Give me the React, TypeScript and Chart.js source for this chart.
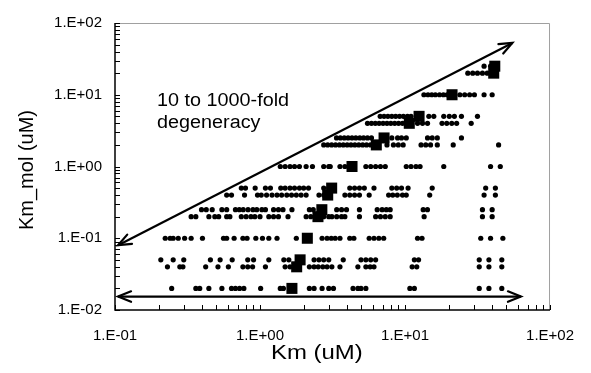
import React, { useEffect, useRef } from 'react';
import { Chart, registerables } from 'chart.js';

Chart.register(...registerables);

// ---- Data (Km in uM on x, Km_mol in uM on y) ----
const km_mol_002 = [0.246, 0.361, 0.384, 0.444, 0.546, 0.636, 0.677, 0.723, 0.774, 1.01, 1.38, 1.45, 2.19, 2.36, 2.68, 2.98, 3.21, 4.38, 4.73, 4.97, 5.37, 10.8, 11.6, 32.5, 37.9, 46.5];
const km_mol_004 = [0.23, 0.28, 0.294, 0.422, 0.513, 0.605, 0.762, 0.823, 0.889, 1.09, 1.49, 1.61, 2.19, 2.36, 2.52, 2.71, 2.9, 3.13, 3.56, 4.73, 5.37, 5.75, 6.11, 11.2, 12.05, 32.5, 37.9, 46.5];
const km_mol_005 = [0.207, 0.252, 0.298, 0.455, 0.531, 0.643, 0.823, 0.903, 1.15, 1.46, 1.58, 2.36, 2.55, 2.75, 2.98, 3.75, 4.97, 5.37, 5.8, 6.27, 11.6, 12.4, 32.5, 37.9, 46.5];
const km_mol_01 = [0.222, 0.24, 0.252, 0.273, 0.302, 0.335, 0.401, 0.56, 0.589, 0.663, 0.762, 0.814, 0.936, 1.04, 1.15, 1.31, 1.78, 2.68, 2.9, 3.1, 3.3, 3.56, 4.16, 4.44, 5.66, 6.11, 6.6, 7.13, 12.2, 13.1, 33.3, 38.9, 47.3];
const km_mol_02 = [0.335, 0.361, 0.444, 0.488, 0.519, 0.589, 0.62, 0.743, 0.802, 0.866, 0.921, 1.0, 1.15, 1.24, 1.34, 1.56, 2.08, 2.24, 2.75, 2.98, 3.13, 3.38, 3.65, 3.85, 4.85, 6.27, 6.77, 7.31, 7.9, 13.55, 34.2, 39.9];
const km_mol_025 = [0.395, 0.426, 0.468, 0.546, 0.589, 0.677, 0.72, 0.766, 0.827, 0.894, 0.95, 1.03, 1.09, 1.24, 1.34, 1.44, 1.66, 2.19, 2.33, 3.38, 3.65, 3.95, 4.85, 6.43, 6.95, 7.43, 7.9, 13.35, 14.28, 34.2, 39.9];
const km_mol_04 = [0.589, 0.636, 0.782, 0.961, 1.02, 1.11, 1.21, 1.31, 1.41, 1.53, 1.65, 1.78, 1.92, 2.08, 2.55, 2.75, 3.85, 4.16, 4.49, 4.85, 5.66, 7.71, 8.23, 8.85, 9.61, 10.2, 14.8, 35.1, 42.0];
const km_mol_05 = [0.743, 0.794, 0.926, 1.09, 1.18, 1.39, 1.49, 1.61, 1.73, 1.87, 2.0, 2.16, 2.75, 2.98, 4.16, 4.49, 4.85, 5.24, 6.11, 8.11, 8.76, 9.46, 10.5, 15.4, 36.0, 42.0];
const km_mol_1 = [1.38, 1.49, 1.61, 1.73, 1.87, 2.08, 2.3, 2.75, 2.98, 3.05, 3.56, 3.85, 5.37, 5.8, 6.27, 6.77, 7.31, 10.2, 11.0, 11.9, 12.7, 18.5, 38.9, 45.4];
const km_mol_2 = [2.75, 2.93, 3.12, 3.32, 3.53, 3.75, 3.99, 4.24, 4.51, 4.8, 5.11, 5.43, 5.78, 7.51, 8.32, 8.99, 9.71, 12.9, 13.9, 15.0, 16.7, 21.5, 44.2];
const km_mol_25 = [3.37, 3.58, 3.81, 4.05, 4.31, 4.58, 4.88, 5.18, 5.51, 5.87, 8.11, 8.89, 9.46, 10.2, 14.3, 15.4, 16.7, 24.5];
const km_mol_4 = [5.51, 5.87, 6.24, 6.63, 7.06, 7.51, 7.98, 8.49, 9.03, 9.61, 12.2, 13.2, 14.3, 18.0, 19.4, 21.0, 22.7, 28.6];
const km_mol_5 = [6.74, 7.17, 7.62, 8.11, 8.62, 9.17, 9.75, 10.4, 11.0, 14.6, 15.8, 18.5, 20.2, 21.9, 24.5, 31.6];
const km_mol_10 = [13.5, 14.4, 15.3, 16.2, 17.3, 18.4, 19.5, 23.9, 25.8, 27.9, 30.1, 35.1, 39.9];
const km_mol_20 = [27.1, 29.3, 31.6, 34.2, 36.9];
const km_mol_25b = [35.1, 38.9];

const kmMolLevels = [0.02, 0.04, 0.05, 0.1, 0.2, 0.25, 0.4, 0.5, 1, 2, 2.5, 4, 5, 10, 20, 25];
const kmRows = [km_mol_002, km_mol_004, km_mol_005, km_mol_01, km_mol_02, km_mol_025, km_mol_04, km_mol_05, km_mol_1, km_mol_2, km_mol_25, km_mol_4, km_mol_5, km_mol_10, km_mol_20, km_mol_25b];

// Large squares (averages)
const avgKm = [1.66, 1.79, 1.89, 2.12, 2.51, 2.67, 2.93, 3.12, 4.31, 6.34, 7.17, 10.7, 12.5, 21.1, 40.9, 41.6];
const avgKmMol = [0.02, 0.04, 0.05, 0.1, 0.2, 0.25, 0.4, 0.5, 1, 2, 2.5, 4, 5, 10, 20, 25];

// Arrows
const diagArrowKm = [0.105, 55];
const diagArrowKmMol = [0.08, 52.8];
const baseArrowKm = [0.105, 63];
const baseArrowKmMol = [0.0154, 0.0154];

const xTitle = 'Km (uM)';
const yTitle = 'Km_mol (uM)';
const noteLines = ['10 to 1000-fold', 'degeneracy'];

const FONT = 'Liberation Sans, Arial, sans-serif';

function expLabel(value: number | string): string {
  const v = Number(value);
  const e = Math.log10(v);
  const r = Math.round(e);
  if (Math.abs(e - r) > 1e-6) return '';
  return '1.E' + (r < 0 ? '-' : '+') + String(Math.abs(r)).padStart(2, '0');
}

function drawHead(ctx: CanvasRenderingContext2D, tx: number, ty: number, fx: number, fy: number) {
  const ang = Math.atan2(ty - fy, tx - fx);
  const L = 14;
  const a = (22 * Math.PI) / 180;
  ctx.beginPath();
  ctx.moveTo(tx - L * Math.cos(ang - a), ty - L * Math.sin(ang - a));
  ctx.lineTo(tx, ty);
  ctx.lineTo(tx - L * Math.cos(ang + a), ty - L * Math.sin(ang + a));
  ctx.stroke();
}

const decorPlugin = {
  id: 'decor',
  afterDatasetsDraw(chart: any) {
    const ctx: CanvasRenderingContext2D = chart.ctx;
    ctx.save();
    ctx.strokeStyle = '#000';
    ctx.lineWidth = 2.2;
    ctx.lineCap = 'round';
    ctx.lineJoin = 'miter';
    [1, 2].forEach((i) => {
      const pts = chart.getDatasetMeta(i).data;
      const p0 = pts[0];
      const p1 = pts[1];
      drawHead(ctx, p0.x, p0.y, p1.x, p1.y);
      drawHead(ctx, p1.x, p1.y, p0.x, p0.y);
    });
    ctx.restore();
  },
  afterDraw(chart: any) {
    const ctx: CanvasRenderingContext2D = chart.ctx;
    const { left, right, top, bottom } = chart.chartArea;
    const xs = chart.scales.x;
    const ys = chart.scales.y;
    ctx.save();
    // plot border top/right
    ctx.strokeStyle = '#a0a0a0';
    ctx.lineWidth = 1;
    ctx.beginPath();
    ctx.moveTo(left, top + 0.5);
    ctx.lineTo(right - 0.5, top + 0.5);
    ctx.lineTo(right - 0.5, bottom);
    ctx.stroke();
    // axes
    ctx.strokeStyle = '#000';
    ctx.lineWidth = 1.5;
    ctx.beginPath();
    ctx.moveTo(left, top);
    ctx.lineTo(left, bottom);
    ctx.lineTo(right, bottom);
    ctx.stroke();
    // tick marks inside
    ctx.lineWidth = 1;
    ctx.beginPath();
    for (let d = -1; d <= 2; d++) {
      for (let m = 1; m <= 9; m++) {
        const v = m * Math.pow(10, d);
        if (v < 0.1 * 0.999 || v > 100 * 1.001) continue;
        const px = Math.round(xs.getPixelForValue(v)) + 0.5;
        ctx.moveTo(px, bottom);
        ctx.lineTo(px, bottom - 5);
      }
    }
    for (let d = -2; d <= 2; d++) {
      for (let m = 1; m <= 9; m++) {
        const v = m * Math.pow(10, d);
        if (v < 0.01 * 0.999 || v > 100 * 1.001) continue;
        const py = Math.round(ys.getPixelForValue(v)) + 0.5;
        ctx.moveTo(left, py);
        ctx.lineTo(left + 5, py);
      }
    }
    ctx.stroke();

    ctx.fillStyle = '#000';
    // x title
    ctx.save();
    ctx.font = `21px ${FONT}`;
    ctx.textBaseline = 'alphabetic';
    ctx.textAlign = 'left';
    ctx.translate(271, 358.5);
    ctx.scale(1.14, 1);
    ctx.fillText(xTitle, 0, 0);
    ctx.restore();
    // y title
    ctx.save();
    ctx.font = `20px ${FONT}`;
    ctx.textBaseline = 'alphabetic';
    ctx.textAlign = 'center';
    ctx.translate(32.5, 170);
    ctx.rotate(-Math.PI / 2);
    ctx.fillText(yTitle, 0, 0);
    ctx.restore();
    // annotation
    ctx.save();
    ctx.font = `18px ${FONT}`;
    ctx.textAlign = 'left';
    ctx.textBaseline = 'alphabetic';
    ctx.translate(157, 106);
    ctx.scale(1.1, 1);
    ctx.fillText(noteLines[0], 0, 0);
    ctx.fillText(noteLines[1], 0, 22);
    ctx.restore();
    ctx.restore();
  },
};

export default function App() {
  const ref = useRef<HTMLCanvasElement | null>(null);
  useEffect(() => {
    if (!ref.current) return;
    const dots: { x: number; y: number }[] = [];
    kmRows.forEach((row, i) => row.forEach((x) => dots.push({ x, y: kmMolLevels[i] })));
    const squares = avgKm.map((x, i) => ({ x, y: avgKmMol[i] }));
    const diag = diagArrowKm.map((x, i) => ({ x, y: diagArrowKmMol[i] }));
    const base = baseArrowKm.map((x, i) => ({ x, y: baseArrowKmMol[i] }));

    const chart = new Chart(ref.current, {
      type: 'scatter',
      data: {
        datasets: [
          {
            label: 'average',
            data: squares,
            pointStyle: 'rect',
            pointRadius: 7.8,
            pointBorderWidth: 0,
            backgroundColor: '#000',
            borderColor: '#000',
          },
          {
            label: 'degeneracy',
            data: diag,
            showLine: true,
            pointRadius: 0,
            borderColor: '#000',
            borderWidth: 2.2,
          },
          {
            label: 'range',
            data: base,
            showLine: true,
            pointRadius: 0,
            borderColor: '#000',
            borderWidth: 2.2,
          },
          {
            label: 'solutions',
            data: dots,
            pointStyle: 'circle',
            pointRadius: 2.6,
            pointBorderWidth: 0,
            backgroundColor: '#000',
            borderColor: '#000',
          },
        ],
      } as any,
      options: {
        responsive: false,
        animation: false,
        devicePixelRatio: 1,
        layout: { padding: { top: 23, right: 28, left: 0, bottom: 0 } },
        plugins: { legend: { display: false }, tooltip: { enabled: false } },
        scales: {
          x: {
            type: 'logarithmic',
            min: 0.1,
            max: 100,
            grid: { display: false, drawTicks: false },
            border: { display: false },
            afterFit: (s: any) => {
              s.height = 63;
            },
            ticks: {
              autoSkip: false,
              maxRotation: 0,
              minRotation: 0,
              padding: 17,
              color: '#000',
              font: { family: FONT, size: 15 },
              callback: (v: any) => expLabel(v),
            },
          },
          y: {
            type: 'logarithmic',
            min: 0.01,
            max: 100,
            grid: { display: false, drawTicks: false },
            border: { display: false },
            afterFit: (s: any) => {
              s.width = 115;
            },
            ticks: {
              autoSkip: false,
              padding: 13,
              color: '#000',
              font: { family: FONT, size: 15 },
              callback: (v: any) => expLabel(v),
            },
          },
        } as any,
      },
      plugins: [decorPlugin],
    });
    return () => chart.destroy();
  }, []);

  return (
    <div style={{ position: 'fixed', left: 0, top: 0, width: 591, height: 373, background: '#fff' }}>
      <canvas ref={ref} width={591} height={373} style={{ display: 'block' }} />
    </div>
  );
}
